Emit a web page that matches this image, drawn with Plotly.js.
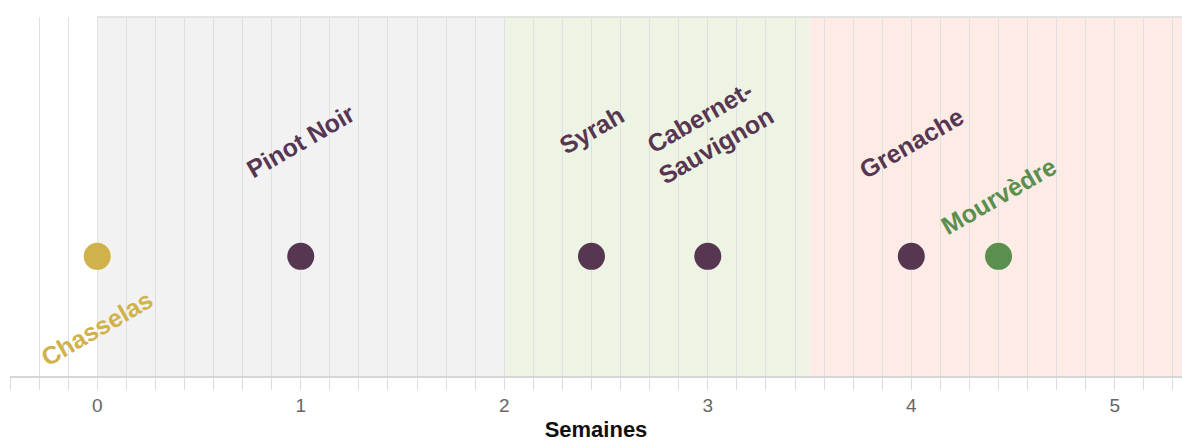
<!DOCTYPE html>
<html>
<head>
<meta charset="utf-8">
<script src="https://cdn.plot.ly/plotly-3.0.1.min.js"></script>
<style>html,body{margin:0;padding:0;background:#fff}#chart{width:1182px;height:442px}</style>
</head>
<body>
<div id="chart"></div>
<script>
// Data
const cepages = ['Chasselas', 'Pinot Noir', 'Syrah', 'Cabernet-<br>Sauvignon', 'Grenache', 'Mourvèdre'];
const semaines = [0, 1, 2 + 3/7, 3, 4, 4 + 3/7];
const niveau = [1, 1, 1, 1, 1, 1];
const bandesDebut = [0, 2, 3.5];
const bandesFin = [2, 3.5, 6];
const tickVals = [0, 1, 2, 3, 4, 5];
const tickText = ['0', '1', '2', '3', '4', '5'];

// Styles
const couleurs = ['#d1b24a', '#573652', '#573652', '#573652', '#573652', '#5b8f4f'];
const bandeCouleurs = ['#f2f2f2', '#eef4e3', '#fdece6'];
const decalages = [-72, 115, 126, 125, 113, 60];

const shapes = bandesDebut.map((d, i) => ({
  type: 'rect', xref: 'x', yref: 'paper', x0: d, x1: bandesFin[i], y0: 0, y1: 1,
  fillcolor: bandeCouleurs[i], line: {width: 0}, layer: 'below'
}));
shapes.push({type: 'line', xref: 'x', yref: 'paper', x0: 0, x1: 6, y0: 1, y1: 1,
  line: {color: '#dcdcdc', width: 1.5}, layer: 'below'});

const annotations = cepages.map((c, i) => ({
  x: semaines[i], y: niveau[i], xref: 'x', yref: 'y', text: '<b>' + c + '</b>',
  showarrow: false, textangle: -30, xanchor: 'center', yanchor: 'middle',
  yshift: decalages[i], align: 'center',
  font: {family: 'Liberation Sans, Arial, sans-serif', size: 25, color: couleurs[i]}
}));

const trace = {
  x: semaines, y: niveau, mode: 'markers', type: 'scatter', hoverinfo: 'skip',
  marker: {size: 27, color: couleurs, line: {width: 0}}
};

const layout = {
  width: 1182, height: 442,
  margin: {l: 10, r: 0, t: 17, b: 66},
  paper_bgcolor: '#ffffff', plot_bgcolor: '#ffffff',
  showlegend: false,
  xaxis: {
    range: [-3/7, 5.33], tickvals: tickVals, ticktext: tickText,
    showgrid: true, gridcolor: '#e0e0e0', gridwidth: 1,
    ticks: 'outside', ticklen: 12, tickcolor: '#dcdcdc', tickwidth: 1,
    minor: {dtick: 1/7, tick0: 0, showgrid: true, gridcolor: '#e0e0e0', gridwidth: 1, ticks: 'outside', ticklen: 12, tickcolor: '#dcdcdc'},
    showline: true, linecolor: '#d6d6d6', linewidth: 1.5, zeroline: false,
    tickfont: {family: 'Liberation Sans, Arial, sans-serif', size: 19, color: '#666666'},
    title: {text: '<b>Semaines</b>', standoff: 8, font: {family: 'Liberation Sans, Arial, sans-serif', size: 22, color: '#111111'}},
    fixedrange: true
  },
  yaxis: {range: [0, 3], visible: false, showgrid: false, zeroline: false, fixedrange: true},
  shapes: shapes,
  annotations: annotations
};

Plotly.newPlot('chart', [trace], layout, {displayModeBar: false, staticPlot: true});
</script>
</body>
</html>
